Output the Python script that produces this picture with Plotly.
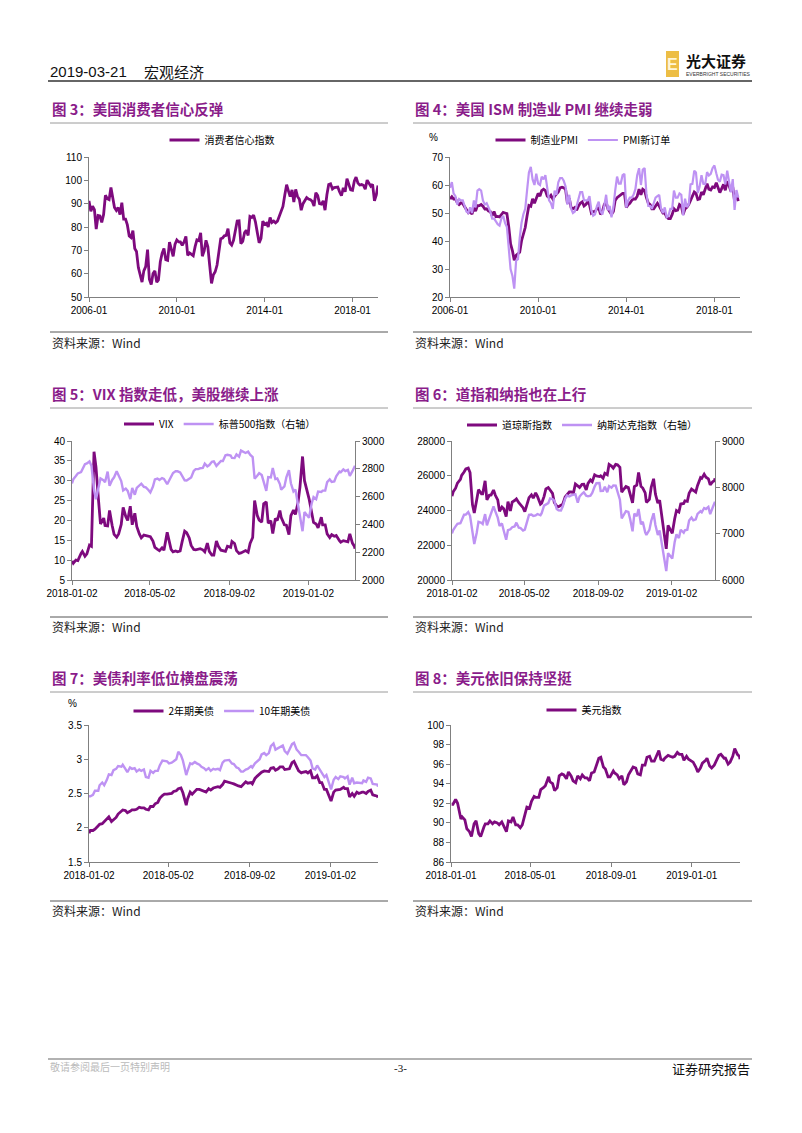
import plotly.graph_objects as go
import pandas as pd

# page is drawn inside the browser's default 8px body margin
OFF = 8
W, H = 802 - OFF, 1133 - OFF
DARK = "#7E0A7E"
LIGHT = "#BE92F3"
TITLE_C = "#8A1C8A"
AX_C = "#808080"
NUM_FONT = "Liberation Sans, Arial, sans-serif"
CJK_FONT = "Noto Sans CJK SC, sans-serif"


def X(px):
    return (px - OFF) / W


def Y(py):
    return 1 - (py - OFF) / H


# ---------------- Data ----------------
# Figure 3: consumer confidence, monthly from 2006-01
cci = [
    91.2, 86.7, 88.9, 87.4, 79.1, 84.9, 84.7, 82.0, 85.4, 93.6, 92.1, 91.7,
    96.9, 91.3, 88.4, 87.1, 88.3, 85.3, 90.4, 83.4, 83.4, 80.9, 76.1, 75.5,
    78.4, 70.8, 69.5, 62.6, 59.8, 56.4, 61.2, 63.0, 70.3, 57.6, 55.3, 60.1,
    61.2, 56.3, 57.3, 65.1, 68.7, 70.8, 66.0, 65.7, 73.5, 70.6, 67.4, 72.5,
    74.4, 73.6, 73.6, 72.2, 73.6, 76.0, 67.8, 68.9, 68.2, 67.7, 71.6, 74.5,
    74.2, 77.5, 67.5, 69.8, 74.3, 71.5, 63.7, 55.8, 59.5, 60.8, 63.7, 69.9,
    75.0, 75.3, 76.2, 76.4, 79.3, 73.2, 72.3, 74.3, 78.3, 82.6, 82.7, 72.9,
    73.8, 77.6, 78.6, 76.4, 84.5, 84.1, 85.1, 82.1, 77.5, 73.2, 75.1, 82.5,
    81.2, 81.6, 80.0, 84.1, 81.9, 82.5, 81.8, 82.5, 84.6, 86.9, 88.8, 93.6,
    98.1, 95.4, 93.0, 95.9, 90.7, 96.1, 93.1, 91.9, 87.2, 90.0, 91.3, 92.6,
    92.0, 91.7, 91.0, 89.0, 94.7, 93.5, 90.0, 89.8, 91.2, 87.2, 93.8, 98.2,
    98.5, 96.3, 96.9, 97.0, 97.1, 95.0, 93.4, 96.8, 95.1, 100.7, 98.5, 95.9,
    95.7, 99.7, 101.4, 98.8, 98.0, 98.2, 97.9, 96.2, 100.1, 98.6, 97.5, 98.3,
    91.2, 93.8, 97.8,
]

# Figure 4: ISM manufacturing PMI and new orders, monthly from 2006-01
pmi = [
    55.0, 55.8, 55.0, 55.2, 53.7, 53.0, 53.6, 53.4, 52.2, 51.0, 50.1, 50.6,
    49.6, 51.9, 50.7, 52.6, 52.6, 53.0, 52.4, 51.4, 51.5, 50.7, 50.5, 49.0,
    50.5, 48.7, 48.8, 48.6, 49.3, 50.2, 50.0, 49.8, 45.0, 39.0, 36.5, 33.1,
    34.9, 35.5, 36.0, 40.1, 42.8, 44.8, 48.9, 52.7, 52.4, 55.1, 53.5, 55.0,
    57.0, 56.0, 58.0, 58.5, 58.0, 56.0, 55.5, 56.3, 55.0, 56.0, 57.0, 57.5,
    59.0, 59.2, 59.0, 58.5, 53.5, 55.3, 52.0, 51.5, 52.0, 51.0, 52.5, 53.5,
    54.0, 52.5, 53.0, 54.0, 53.0, 50.0, 50.5, 50.5, 51.5, 51.8, 49.5, 50.5,
    53.0, 54.0, 51.5, 50.5, 49.5, 50.5, 54.5, 55.5, 56.0, 56.5, 57.0, 57.0,
    52.0, 53.0, 53.5, 54.5, 55.0, 55.0, 56.0, 58.5, 56.5, 58.5, 58.0, 55.5,
    53.5, 53.0, 51.5, 51.5, 52.5, 53.5, 52.5, 51.0, 50.0, 50.0, 48.5, 48.0,
    48.0, 49.5, 51.5, 50.8, 51.0, 53.0, 52.5, 49.5, 51.5, 52.0, 53.0, 54.5,
    56.0, 57.5, 57.0, 54.8, 55.0, 57.5, 56.5, 58.5, 60.5, 58.5, 58.2, 59.3,
    59.1, 60.8, 59.3, 57.3, 58.7, 60.2, 58.1, 61.3, 59.8, 57.7, 59.3, 54.3,
    56.6, 54.2,
]
new_orders = [
    59.0, 61.0, 57.0, 56.0, 53.0, 55.0, 54.5, 54.5, 52.5, 50.5, 50.0, 52.0,
    50.0, 54.5, 52.0, 58.0, 58.5, 58.0, 54.5, 53.0, 53.5, 52.0, 50.5, 48.0,
    48.0, 47.0, 46.0, 45.5, 48.0, 49.0, 46.5, 45.0, 38.0, 30.0, 27.5, 23.0,
    33.0, 33.5, 41.0, 46.5, 49.5, 51.5, 58.0, 64.5, 66.5, 62.0, 60.0, 64.0,
    60.5, 60.0, 63.0, 62.0, 63.5, 58.0, 54.5, 53.5, 51.5, 58.0, 56.5, 61.0,
    62.5, 62.5, 61.5, 59.5, 53.0, 56.5, 51.5, 50.0, 50.5, 52.5, 55.0, 57.5,
    57.5, 54.5, 54.5, 54.5, 56.0, 51.0, 49.0, 49.5, 52.5, 54.0, 50.5, 49.5,
    52.5, 56.5, 51.0, 52.5, 48.5, 52.0, 58.0, 63.0, 60.5, 60.5, 63.5, 64.0,
    52.0, 54.5, 55.5, 55.5, 56.5, 58.5, 63.5, 66.0, 60.0, 65.5, 66.0, 57.0,
    52.5, 52.5, 51.5, 53.5, 55.5, 56.0, 56.5, 51.5, 50.0, 52.0, 48.5, 49.0,
    51.5, 51.5, 58.0, 55.5, 55.5, 57.0, 56.5, 49.1, 55.1, 52.1, 53.0, 60.2,
    60.4, 65.1, 64.5, 57.2, 59.5, 63.5, 60.4, 60.3, 64.6, 63.4, 64.0, 66.0,
    67.0, 64.2, 61.9, 61.2, 63.7, 63.5, 60.2, 65.1, 61.8, 57.4, 62.1, 51.1,
    58.2, 55.5,
]

# Observation dates for figures 5-8 (start-of-week and mid-week readings)
mon_dates = [
    "2018-01-02", "2018-01-08", "2018-01-16", "2018-01-22", "2018-01-29",
    "2018-02-05", "2018-02-12", "2018-02-20", "2018-02-26", "2018-03-05",
    "2018-03-12", "2018-03-19", "2018-03-26", "2018-04-02", "2018-04-09",
    "2018-04-16", "2018-04-23", "2018-04-30", "2018-05-07", "2018-05-14",
    "2018-05-21", "2018-05-29", "2018-06-04", "2018-06-11", "2018-06-18",
    "2018-06-25", "2018-07-02", "2018-07-09", "2018-07-16", "2018-07-23",
    "2018-07-30", "2018-08-06", "2018-08-13", "2018-08-20", "2018-08-27",
    "2018-09-04", "2018-09-10", "2018-09-17", "2018-09-24", "2018-10-01",
    "2018-10-08", "2018-10-15", "2018-10-22", "2018-10-29", "2018-11-05",
    "2018-11-12", "2018-11-19", "2018-11-26", "2018-12-03", "2018-12-10",
    "2018-12-17", "2018-12-24", "2019-01-03", "2019-01-07", "2019-01-14",
    "2019-01-22", "2019-01-28", "2019-02-04", "2019-02-11", "2019-02-19",
    "2019-02-25", "2019-03-04", "2019-03-11", "2019-03-15",
]
thu_dates = [
    "2018-01-04", "2018-01-11", "2018-01-18", "2018-01-25",
    "2018-02-01", "2018-02-08", "2018-02-15", "2018-02-22",
    "2018-03-01", "2018-03-08", "2018-03-15", "2018-03-22", "2018-03-29",
    "2018-04-05", "2018-04-12", "2018-04-19", "2018-04-26",
    "2018-05-03", "2018-05-10", "2018-05-17", "2018-05-24", "2018-05-31",
    "2018-06-07", "2018-06-14", "2018-06-21", "2018-06-28",
    "2018-07-05", "2018-07-12", "2018-07-19", "2018-07-26",
    "2018-08-02", "2018-08-09", "2018-08-16", "2018-08-23", "2018-08-30",
    "2018-09-06", "2018-09-13", "2018-09-20", "2018-09-27",
    "2018-10-04", "2018-10-11", "2018-10-18", "2018-10-25",
    "2018-11-01", "2018-11-08", "2018-11-15", "2018-11-21", "2018-11-29",
    "2018-12-06", "2018-12-13", "2018-12-20", "2018-12-27",
    "2019-01-10", "2019-01-17", "2019-01-24", "2019-01-31",
    "2019-02-07", "2019-02-14", "2019-02-21", "2019-02-28",
    "2019-03-07", "2019-03-14",
]

vix_mon = [9.8, 10.0, 11.7, 11.0, 13.8, 37.3, 25.0, 20.6, 18.6, 18.7,
           15.8, 19.0, 21.0, 23.6, 21.8, 16.6, 16.3, 15.9, 14.8, 12.7,
           13.1, 17.0, 12.7, 12.3, 12.3, 17.3, 15.6, 12.7, 12.8, 12.6,
           14.3, 11.3, 14.8, 12.5, 12.2, 13.2, 14.2, 11.7, 12.2, 12.0,
           15.7, 21.3, 19.6, 24.7, 19.9, 20.5, 22.5, 18.9, 16.4, 22.6,
           24.5, 36.1, 25.5, 21.4, 19.1, 20.8, 18.9, 15.7, 16.0, 14.9,
           14.9, 14.6, 14.3, 12.9]
vix_thu = [9.2, 9.9, 12.2, 11.6,
           13.5, 33.5, 19.1, 18.7,
           22.5, 16.5, 16.6, 23.3, 20.0,
           18.9, 18.5, 15.6, 16.2,
           15.9, 13.2, 12.4, 12.5, 15.4,
           12.1, 12.1, 14.6, 16.9,
           13.7, 12.6, 12.9, 12.1,
           12.2, 11.3, 13.5, 12.4, 13.5,
           14.7, 12.4, 11.8, 12.4,
           14.2, 25.0, 20.1, 24.2,
           19.3, 16.7, 20.0, 20.8, 18.8,
           21.2, 21.5, 28.4, 30.0,
           19.5, 18.1, 18.9, 16.6,
           16.4, 16.2, 14.5, 14.8,
           16.6, 13.5]
spx_mon = [2695, 2748, 2776, 2833, 2853, 2649, 2656, 2716, 2780, 2720,
           2783, 2712, 2658, 2582, 2613, 2678, 2670, 2648, 2672, 2730,
           2733, 2689, 2747, 2782, 2774, 2717, 2726, 2784, 2798, 2806,
           2817, 2850, 2821, 2857, 2897, 2896, 2877, 2888, 2919, 2924,
           2884, 2750, 2755, 2641, 2738, 2726, 2690, 2673, 2790, 2637,
           2546, 2351, 2448, 2549, 2582, 2633, 2643, 2724, 2709, 2780,
           2796, 2792, 2783, 2822]
spx_thu = [2724, 2767, 2798, 2839,
           2822, 2581, 2731, 2703,
           2678, 2739, 2747, 2644, 2641,
           2663, 2663, 2693, 2667,
           2630, 2723, 2720, 2727, 2705,
           2770, 2782, 2749, 2716,
           2737, 2798, 2804, 2837,
           2827, 2853, 2840, 2856, 2901,
           2878, 2904, 2931, 2914,
           2902, 2729, 2768, 2705,
           2740, 2806, 2730, 2650, 2738,
           2696, 2651, 2467, 2489,
           2597, 2636, 2643, 2704,
           2706, 2746, 2775, 2784,
           2749, 2808]
dow_mon = [24824, 25283, 25792, 26215, 26439, 24346, 24601, 24964, 25709, 24875,
           25179, 24610, 24203, 23644, 23979, 24574, 24448, 24163, 24357, 24899,
           25013, 24362, 24813, 25322, 24988, 24252, 24307, 24776, 25064, 25044,
           25415, 25502, 25187, 25758, 26049, 25952, 25857, 26062, 26562, 26651,
           26487, 25250, 25317, 24443, 25461, 25387, 25017, 24640, 25826, 24423,
           23592, 21792, 22686, 23531, 23909, 24404, 24528, 25239, 25053, 25891,
           26091, 25819, 25650, 25849]
dow_thu = [25075, 25574, 26017, 26392,
           26186, 23861, 25200, 24962,
           24609, 24895, 24874, 23958, 24103,
           24505, 24483, 24665, 24322,
           23930, 24739, 24714, 24812, 24416,
           25242, 25175, 24462, 24217,
           24357, 24924, 25065, 25527,
           25327, 25509, 25559, 25657, 25987,
           25996, 26145, 26657, 26440,
           26628, 25052, 25380, 24985,
           25381, 26191, 25289, 24465, 25339,
           24947, 24597, 22860, 23138,
           24001, 24371, 24553, 24999,
           25169, 25439, 25851, 25916,
           25473, 25710]
nasdaq_mon = [7006, 7157, 7224, 7408, 7466, 6968, 7013, 7234, 7421, 7330,
              7588, 7345, 7221, 6870, 7095, 7156, 7128, 7066, 7266, 7411,
              7394, 7396, 7606, 7659, 7747, 7532, 7502, 7756, 7805, 7841,
              7671, 7860, 7819, 7821, 8017, 8091, 7924, 7896, 7993, 8037,
              7735, 7431, 7468, 7050, 7375, 7200, 7028, 7081, 7441, 6970,
              6753, 6193, 6463, 6823, 6905, 7020, 7085, 7348, 7307, 7486,
              7554, 7577, 7559, 7688]
nasdaq_thu = [7078, 7212, 7296, 7411,
              7386, 6777, 7257, 7210,
              7180, 7428, 7481, 7167, 7063,
              7076, 7140, 7238, 7119,
              7088, 7404, 7382, 7424, 7442,
              7636, 7761, 7712, 7503,
              7586, 7823, 7825, 7853,
              7802, 7892, 7806, 7878, 8088,
              7922, 8013, 8028, 8042,
              7880, 7329, 7485, 7318,
              7434, 7531, 7259, 6972, 7273,
              7188, 7070, 6528, 6579,
              6986, 7084, 7073, 7282,
              7288, 7427, 7460, 7533,
              7421, 7631]
ust2y_mon = [1.92, 1.96, 2.03, 2.06, 2.13, 2.09, 2.15, 2.24, 2.25, 2.24,
             2.26, 2.30, 2.29, 2.26, 2.31, 2.37, 2.47, 2.49, 2.50, 2.54,
             2.58, 2.33, 2.52, 2.53, 2.56, 2.53, 2.57, 2.58, 2.60, 2.63,
             2.67, 2.65, 2.62, 2.60, 2.67, 2.66, 2.72, 2.79, 2.83, 2.82,
             2.88, 2.86, 2.89, 2.85, 2.95, 2.89, 2.80, 2.82, 2.83, 2.73,
             2.66, 2.56, 2.39, 2.52, 2.55, 2.59, 2.57, 2.50, 2.52, 2.52,
             2.50, 2.55, 2.47, 2.44]
ust2y_thu = [1.96, 1.98, 2.05, 2.09,
             2.16, 2.12, 2.20, 2.26,
             2.22, 2.26, 2.27, 2.29, 2.27,
             2.31, 2.35, 2.43, 2.49,
             2.49, 2.53, 2.57, 2.51, 2.42,
             2.49, 2.56, 2.55, 2.52,
             2.55, 2.59, 2.59, 2.68,
             2.67, 2.64, 2.61, 2.63, 2.65,
             2.64, 2.75, 2.81, 2.83,
             2.87, 2.84, 2.89, 2.85,
             2.86, 2.97, 2.83, 2.81, 2.80,
             2.73, 2.76, 2.66, 2.56,
             2.55, 2.56, 2.57, 2.45,
             2.46, 2.50, 2.52, 2.53,
             2.48, 2.46]
ust10y_mon = [2.46, 2.48, 2.54, 2.66, 2.70, 2.77, 2.86, 2.89, 2.86, 2.88,
              2.87, 2.85, 2.85, 2.73, 2.80, 2.83, 2.98, 2.97, 2.95, 3.00,
              3.06, 2.77, 2.94, 2.96, 2.92, 2.87, 2.87, 2.86, 2.86, 2.95,
              2.98, 2.94, 2.88, 2.82, 2.85, 2.90, 2.94, 3.00, 3.09, 3.09,
              3.23, 3.16, 3.20, 3.08, 3.22, 3.14, 3.06, 3.06, 2.98, 2.85,
              2.85, 2.74, 2.56, 2.70, 2.71, 2.74, 2.75, 2.73, 2.66, 2.65,
              2.67, 2.72, 2.63, 2.60]
ust10y_thu = [2.46, 2.54, 2.62, 2.62,
              2.78, 2.84, 2.90, 2.92,
              2.81, 2.86, 2.82, 2.83, 2.74,
              2.83, 2.83, 2.91, 2.98,
              2.94, 2.97, 3.11, 2.98, 2.83,
              2.93, 2.94, 2.89, 2.84,
              2.83, 2.85, 2.84, 2.98,
              2.99, 2.93, 2.87, 2.82, 2.86,
              2.88, 2.97, 3.07, 3.06,
              3.19, 3.14, 3.17, 3.12,
              3.14, 3.24, 3.11, 3.06, 3.03,
              2.87, 2.91, 2.79, 2.77,
              2.74, 2.75, 2.72, 2.63,
              2.65, 2.66, 2.69, 2.73,
              2.64, 2.63]
dxy_mon = [91.9, 92.4, 90.4, 90.3, 89.1, 89.9, 88.9, 89.6, 89.9, 89.9,
           90.0, 90.1, 89.1, 90.1, 89.8, 89.5, 90.9, 91.5, 92.7, 92.6,
           93.6, 94.7, 94.0, 93.6, 95.0, 94.5, 94.8, 94.1, 94.5, 94.6,
           94.3, 95.2, 96.6, 95.7, 94.7, 95.3, 94.9, 94.8, 94.2, 95.3,
           95.6, 94.9, 95.9, 96.8, 96.3, 97.4, 96.4, 96.9, 96.7, 97.2,
           97.0, 96.8, 96.2, 95.7, 95.6, 96.4, 95.8, 95.9, 96.9, 96.6,
           96.0, 96.8, 97.0, 96.5]
dxy_thu = [91.9, 92.0, 90.6, 89.4,
           88.6, 90.2, 88.6, 89.9,
           90.2, 90.1, 89.8, 89.7, 90.2,
           90.6, 89.8, 89.8, 91.6,
           92.2, 92.6, 93.4, 93.8, 94.2,
           93.3, 94.8, 94.9, 95.2,
           94.3, 94.8, 94.9, 94.6,
           95.1, 95.9, 96.7, 95.5, 94.7,
           95.1, 94.5, 93.9, 94.9,
           95.7, 95.0, 95.9, 96.7,
           96.3, 96.8, 96.5, 96.6, 96.8,
           96.8, 97.0, 96.4, 96.5,
           95.2, 96.1, 96.6, 95.6,
           96.4, 97.0, 96.6, 96.2,
           97.6, 96.8]

# Tick labels
long_ticks = ["2006-01-01", "2010-01-01", "2014-01-01", "2018-01-01"]
long_ticktext = ["2006-01", "2010-01", "2014-01", "2018-01"]
short_ticks = ["2018-01-02", "2018-05-02", "2018-09-02", "2019-01-02"]
dxy_ticks = ["2018-01-01", "2018-05-01", "2018-09-01", "2019-01-01"]

cci_dates = pd.date_range("2006-01-01", periods=len(cci), freq="MS")
pmi_dates = pd.date_range("2006-01-01", periods=len(pmi), freq="MS")


def series(mon_vals, thu_vals):
    s = pd.Series(list(mon_vals) + list(thu_vals),
                  index=pd.to_datetime(mon_dates + thu_dates)).sort_index()
    return s.index, s.values


# ---------------- Figure ----------------
fig = go.Figure()


def add_line(xy, name, color, xa, ya, leg, width=2.6):
    x, y = xy
    fig.add_trace(go.Scatter(x=x, y=y, name=name, mode="lines",
                             line=dict(color=color, width=width),
                             xaxis=xa, yaxis=ya, legend=leg,
                             hoverinfo="skip"))


add_line((cci_dates, cci), "消费者信心指数", DARK, "x", "y", "legend", 2.8)
add_line((pmi_dates, pmi), "制造业PMI", DARK, "x2", "y2", "legend2", 2.8)
add_line((pmi_dates, new_orders), "PMI新订单", LIGHT, "x2", "y2", "legend2", 2.2)
add_line(series(vix_mon, vix_thu), "VIX", DARK, "x3", "y3", "legend3", 2.8)
add_line(series(spx_mon, spx_thu), "标普500指数（右轴）", LIGHT, "x3", "y4", "legend3", 2.4)
add_line(series(dow_mon, dow_thu), "道琼斯指数", DARK, "x4", "y5", "legend4", 2.8)
add_line(series(nasdaq_mon, nasdaq_thu), "纳斯达克指数（右轴）", LIGHT, "x4", "y6", "legend4", 2.4)
add_line(series(ust2y_mon, ust2y_thu), "2年期美债", DARK, "x5", "y7", "legend5", 2.8)
add_line(series(ust10y_mon, ust10y_thu), "10年期美债", LIGHT, "x5", "y7", "legend5", 2.4)
add_line(series(dxy_mon, dxy_thu), "美元指数", DARK, "x6", "y8", "legend6", 2.8)

common = dict(showline=True, linecolor=AX_C, linewidth=1, ticks="outside",
              ticklen=4, tickcolor=AX_C, showgrid=False, zeroline=False,
              tickfont=dict(family=NUM_FONT, size=10, color="#000"),
              fixedrange=True, automargin=False)


def xax(x0, x1, anchor, rng, tv, tt):
    return dict(domain=[X(x0), X(x1)], anchor=anchor, type="date",
                range=rng, tickmode="array", tickvals=tv, ticktext=tt,
                **common)


def yax(top, bottom, anchor, rng, dtick, side="left", overlaying=None):
    d = dict(anchor=anchor, range=rng, dtick=dtick, tick0=rng[0], side=side,
             tickformat="d" if rng[1] >= 1000 else None, **common)
    if overlaying:
        d["overlaying"] = overlaying
    else:
        d["domain"] = [Y(bottom), Y(top)]
    return d


R1T, R1B = 157, 297
R2T, R2B = 441, 580
R3T, R3B = 725, 862
LONG_R = ["2006-01-01", "2019-03-01"]
SHORT_R = ["2018-01-02", "2019-03-15"]

fig.update_layout(
    template="none",
    xaxis=xax(89, 378, "y", LONG_R, long_ticks, long_ticktext),
    yaxis=yax(R1T, R1B, "x", [50, 110], 10),
    xaxis2=xax(450, 740, "y2", LONG_R, long_ticks, long_ticktext),
    yaxis2=yax(R1T, R1B, "x2", [20, 70], 10),
    xaxis3=xax(72, 355, "y3", SHORT_R, short_ticks, short_ticks),
    yaxis3=yax(R2T, R2B, "x3", [5, 40], 5),
    yaxis4=yax(R2T, R2B, "x3", [2000, 3000], 200, side="right", overlaying="y3"),
    xaxis4=xax(452, 715, "y5", SHORT_R, short_ticks, short_ticks),
    yaxis5=yax(R2T, R2B, "x4", [20000, 28000], 2000),
    yaxis6=yax(R2T, R2B, "x4", [6000, 9000], 1000, side="right", overlaying="y5"),
    xaxis5=xax(89, 378, "y7", SHORT_R, short_ticks, short_ticks),
    yaxis7=yax(R3T, R3B, "x5", [1.5, 3.5], 0.5),
    xaxis6=xax(451, 740, "y8", ["2018-01-01", "2019-03-15"], dxy_ticks, dxy_ticks),
    yaxis8=yax(R3T, R3B, "x6", [86, 100], 2),
)


def leg(cx, cy):
    return dict(orientation="h", x=X(cx), y=Y(cy), xanchor="center",
                yanchor="middle", font=dict(family=CJK_FONT, size=10, color="#000"),
                bgcolor="rgba(0,0,0,0)", itemwidth=30, traceorder="normal")


fig.update_layout(
    width=W, height=H, margin=dict(l=0, r=0, t=0, b=0, pad=0, autoexpand=False),
    paper_bgcolor="white", plot_bgcolor="white", showlegend=True,
    legend=leg(222, 140), legend2=leg(583, 140), legend3=leg(220, 424),
    legend4=leg(582, 425), legend5=leg(222, 711), legend6=leg(584, 710),
)

# ---------------- Page furniture ----------------
ann = []


def text(x, y, s, size, color="#000", family=CJK_FONT, xanchor="left"):
    ann.append(dict(x=X(x), y=Y(y), xref="paper", yref="paper", text=s,
                    showarrow=False, xanchor=xanchor, yanchor="middle",
                    font=dict(family=family, size=size, color=color)))


shapes = []


def hline(x0, x1, y, color, width=1):
    shapes.append(dict(type="line", xref="paper", yref="paper", x0=X(x0),
                       x1=X(x1), y0=Y(y), y1=Y(y),
                       line=dict(color=color, width=width)))


# header
text(48, 71, "2019-03-21", 15, "#111", NUM_FONT)
text(142, 71, "宏观经济", 15, "#111", CJK_FONT)
hline(48, 752, 81, "#333", 1.5)
shapes.append(dict(type="rect", xref="paper", yref="paper", x0=X(666), x1=X(679),
                   y0=Y(77), y1=Y(51), fillcolor="#EDBE45", line=dict(width=0)))
text(672.5, 64, "<b>E</b>", 16, "#FFF6D8", NUM_FONT, "center")
text(684, 61, "<b>光大证券</b>", 15, "#111", CJK_FONT)
text(684, 74, "EVERBRIGHT SECURITIES", 5, "#333", NUM_FONT)

# chart titles / rules / sources
titles = [
    (50, 108, "图 3：美国消费者信心反弹"),
    (413, 108, "图 4：美国 ISM 制造业 PMI 继续走弱"),
    (50, 393, "图 5：VIX 指数走低，美股继续上涨"),
    (413, 393, "图 6：道指和纳指也在上行"),
    (50, 678, "图 7：美债利率低位横盘震荡"),
    (413, 678, "图 8：美元依旧保持坚挺"),
]
for x, y, s in titles:
    text(x, y, "<b>" + s + "</b>", 14.5, TITLE_C)

for y in (123, 408, 692):
    hline(50, 388, y, "#9a9a9a", 1)
    hline(413, 752, y, "#9a9a9a", 1)
for y in (332, 617, 901):
    hline(50, 388, y, "#555", 1)
    hline(413, 752, y, "#555", 1)
for y in (342, 626, 910):
    text(50, y, "资料来源：Wind", 12, "#222")
    text(413, y, "资料来源：Wind", 12, "#222")

text(433, 138, "%", 10, "#000", NUM_FONT, "center")
text(72, 703, "%", 10, "#000", NUM_FONT, "center")

# footer
hline(48, 752, 1059, "#999", 1.5)
text(48, 1066, "敬请参阅最后一页特别声明", 10, "#bbbbbb")
text(400, 1068, "-3-", 11, "#111", "Liberation Serif, serif", "center")
text(752, 1068, "证券研究报告", 13, "#111", CJK_FONT, "right")

fig.update_layout(annotations=ann, shapes=shapes)
fig.write_html("out.html")
